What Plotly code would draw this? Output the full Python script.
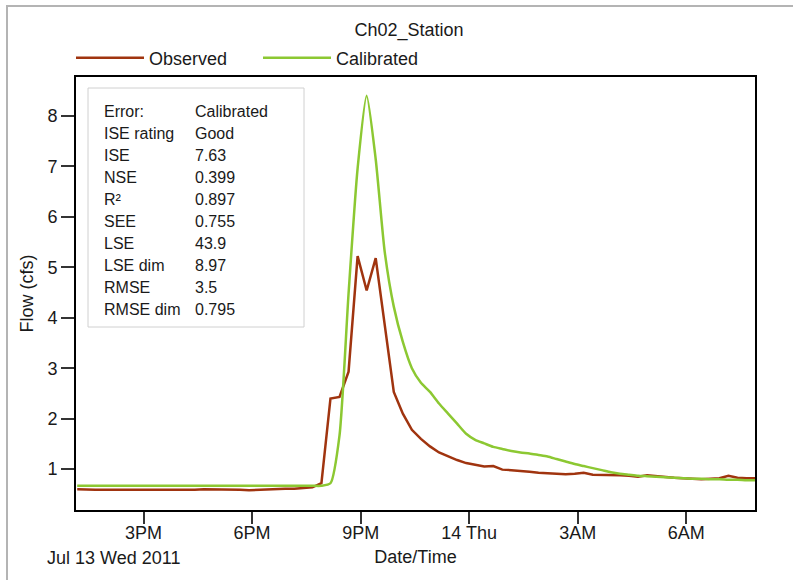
import pandas as pd
import plotly.graph_objects as go

# ---------------- data ----------------
start_time = "2011-07-13 13:10"
step = "15min"

observed = [
    0.60, 0.59, 0.59, 0.59, 0.59, 0.58, 0.59, 0.59, 0.59, 0.58,   # 13:10-15:25
    0.58, 0.58, 0.58, 0.59, 0.60, 0.60, 0.60, 0.59, 0.59, 0.58,   # 15:40-17:55
    0.59, 0.60, 0.60, 0.61, 0.61, 0.62, 0.64, 0.72, 2.40, 2.43,   # 18:10-20:25
    2.93, 5.22, 4.54, 5.18, 3.85, 2.53, 2.10, 1.78, 1.60, 1.45,   # 20:40-22:55
    1.33, 1.25, 1.18, 1.12, 1.08, 1.05, 1.06, 0.99, 0.98, 0.97,   # 23:10-01:25
    0.95, 0.93, 0.92, 0.91, 0.90, 0.91, 0.93, 0.89, 0.89, 0.89,   # 01:40-03:55
    0.88, 0.87, 0.85, 0.88, 0.86, 0.84, 0.83, 0.82, 0.81, 0.80,   # 04:10-06:25
    0.81, 0.82, 0.87, 0.83, 0.82, 0.82,                           # 06:40-07:55
]

calibrated = [
    0.67, 0.67, 0.67, 0.67, 0.67, 0.67, 0.67, 0.67, 0.67, 0.67,
    0.67, 0.67, 0.67, 0.67, 0.67, 0.67, 0.67, 0.67, 0.67, 0.67,
    0.67, 0.67, 0.67, 0.67, 0.67, 0.67, 0.67, 0.67, 0.72, 1.67,
    4.48, 6.96, 8.40, 7.14, 5.30, 4.22, 3.52, 3.00, 2.71, 2.53,
    2.30, 2.10, 1.90, 1.70, 1.58, 1.51, 1.44, 1.40, 1.36, 1.33,
    1.31, 1.28, 1.25, 1.20, 1.15, 1.10, 1.06, 1.02, 0.98, 0.94,
    0.91, 0.89, 0.87, 0.86, 0.85, 0.84, 0.83, 0.82, 0.81, 0.81,
    0.80, 0.80, 0.79, 0.79, 0.78, 0.78,
]

x_range = ["2011-07-13 13:08", "2011-07-14 07:54"]
x_tickvals = ["2011-07-13 15:00", "2011-07-13 18:00", "2011-07-13 21:00",
              "2011-07-14 00:00", "2011-07-14 03:00", "2011-07-14 06:00"]
x_ticktext = ["3PM", "6PM", "9PM", "14 Thu", "3AM", "6AM"]
y_range = [0.19, 8.77]
y_tickvals = [1, 2, 3, 4, 5, 6, 7, 8]

stat_names = ["Error:", "ISE rating", "ISE", "NSE", "R²", "SEE", "LSE",
              "LSE dim", "RMSE", "RMSE dim"]
stat_values = ["Calibrated", "Good", "7.63", "0.399", "0.897", "0.755",
               "43.9", "8.97", "3.5", "0.795"]

times = pd.date_range(start_time, periods=len(observed), freq=step)

FONT = "Liberation Sans, Arial, sans-serif"
TXT = "#1a1a1a"
FS = 18

W, H = 793, 580
ML, MR, MT, MB = 76, 38, 77, 70
PW, PH = W - ML - MR, H - MT - MB


def px_x(px):
    return (px - ML) / PW


def px_y(py):
    return (H - MB - py) / PH


fig = go.Figure()
fig.add_trace(go.Scatter(x=times, y=observed, mode="lines", name="Observed",
                         line=dict(color="#a0340f", width=2.5)))
fig.add_trace(go.Scatter(x=times, y=calibrated, mode="lines", name="Calibrated",
                         line=dict(color="#8cc832", width=2.5, shape="spline",
                                   smoothing=0.6)))

fig.update_layout(
    width=W, height=H,
    margin=dict(l=ML, r=MR, t=MT, b=MB),
    paper_bgcolor="white", plot_bgcolor="white",
    font=dict(family=FONT, size=FS, color=TXT),
    title=dict(text="Ch02_Station", x=409 / W, xanchor="center",
               y=1 - 29.5 / H, yanchor="middle",
               font=dict(size=FS, color=TXT)),
    showlegend=True,
    legend=dict(orientation="h", x=px_x(71), xanchor="left", y=px_y(58),
                yanchor="middle", font=dict(size=FS, color=TXT),
                itemwidth=68, entrywidth=104, bgcolor="rgba(0,0,0,0)"),
    xaxis=dict(type="date", range=x_range, tickmode="array",
               tickvals=x_tickvals, ticktext=x_ticktext,
               ticks="outside", ticklen=12, tickcolor="#333", tickwidth=1.5,
               ticklabelstandoff=-7,
               showgrid=False, zeroline=False,
               showline=True, linecolor="black", linewidth=2, mirror=True,
               title=dict(text="Date/Time", standoff=9,
                          font=dict(size=FS, color=TXT)),
               tickfont=dict(size=FS, color=TXT)),
    yaxis=dict(range=y_range, tickmode="array", tickvals=y_tickvals,
               ticks="outside", ticklen=13, tickcolor="#333", tickwidth=1.5,
               showgrid=False, zeroline=False,
               showline=True, linecolor="black", linewidth=2, mirror=True,
               title=dict(text="Flow (cfs)", standoff=9,
                          font=dict(size=FS, color=TXT)),
               tickfont=dict(size=FS, color=TXT)),
    yaxis2=dict(range=y_range, overlaying="y", side="left",
                tickmode="array", tickvals=y_tickvals, showticklabels=False,
                ticks="inside", ticklen=11, tickcolor="#333", tickwidth=1.5,
                showgrid=False, zeroline=False, showline=False),
)

# date label under the axis
fig.add_annotation(text="Jul 13 Wed 2011", xref="paper", yref="paper",
                   x=px_x(45), y=px_y(558), xanchor="left", yanchor="middle",
                   showarrow=False, font=dict(size=FS, color=TXT))

# statistics box
fig.add_shape(type="rect", xref="paper", yref="paper",
              x0=px_x(88), x1=px_x(304), y0=px_y(327), y1=px_y(88),
              line=dict(color="#d0d0d0", width=1), fillcolor="white", layer="below")
for i, (name, val) in enumerate(zip(stat_names, stat_values)):
    yy = px_y(111 + 22.1 * i)
    fig.add_annotation(text=name, xref="paper", yref="paper",
                       x=px_x(102), y=yy, xanchor="left", yanchor="middle",
                       showarrow=False, font=dict(size=16, color=TXT))
    fig.add_annotation(text=val, xref="paper", yref="paper",
                       x=px_x(193), y=yy, xanchor="left", yanchor="middle",
                       showarrow=False, font=dict(size=16, color=TXT))

# outer light-grey frame
fig.add_shape(type="rect", xref="paper", yref="paper",
              x0=px_x(7), x1=px_x(810), y0=px_y(600), y1=px_y(6),
              line=dict(color="#b4b4b4", width=2), fillcolor="rgba(0,0,0,0)",
              layer="below")

fig.write_html("out.html")
